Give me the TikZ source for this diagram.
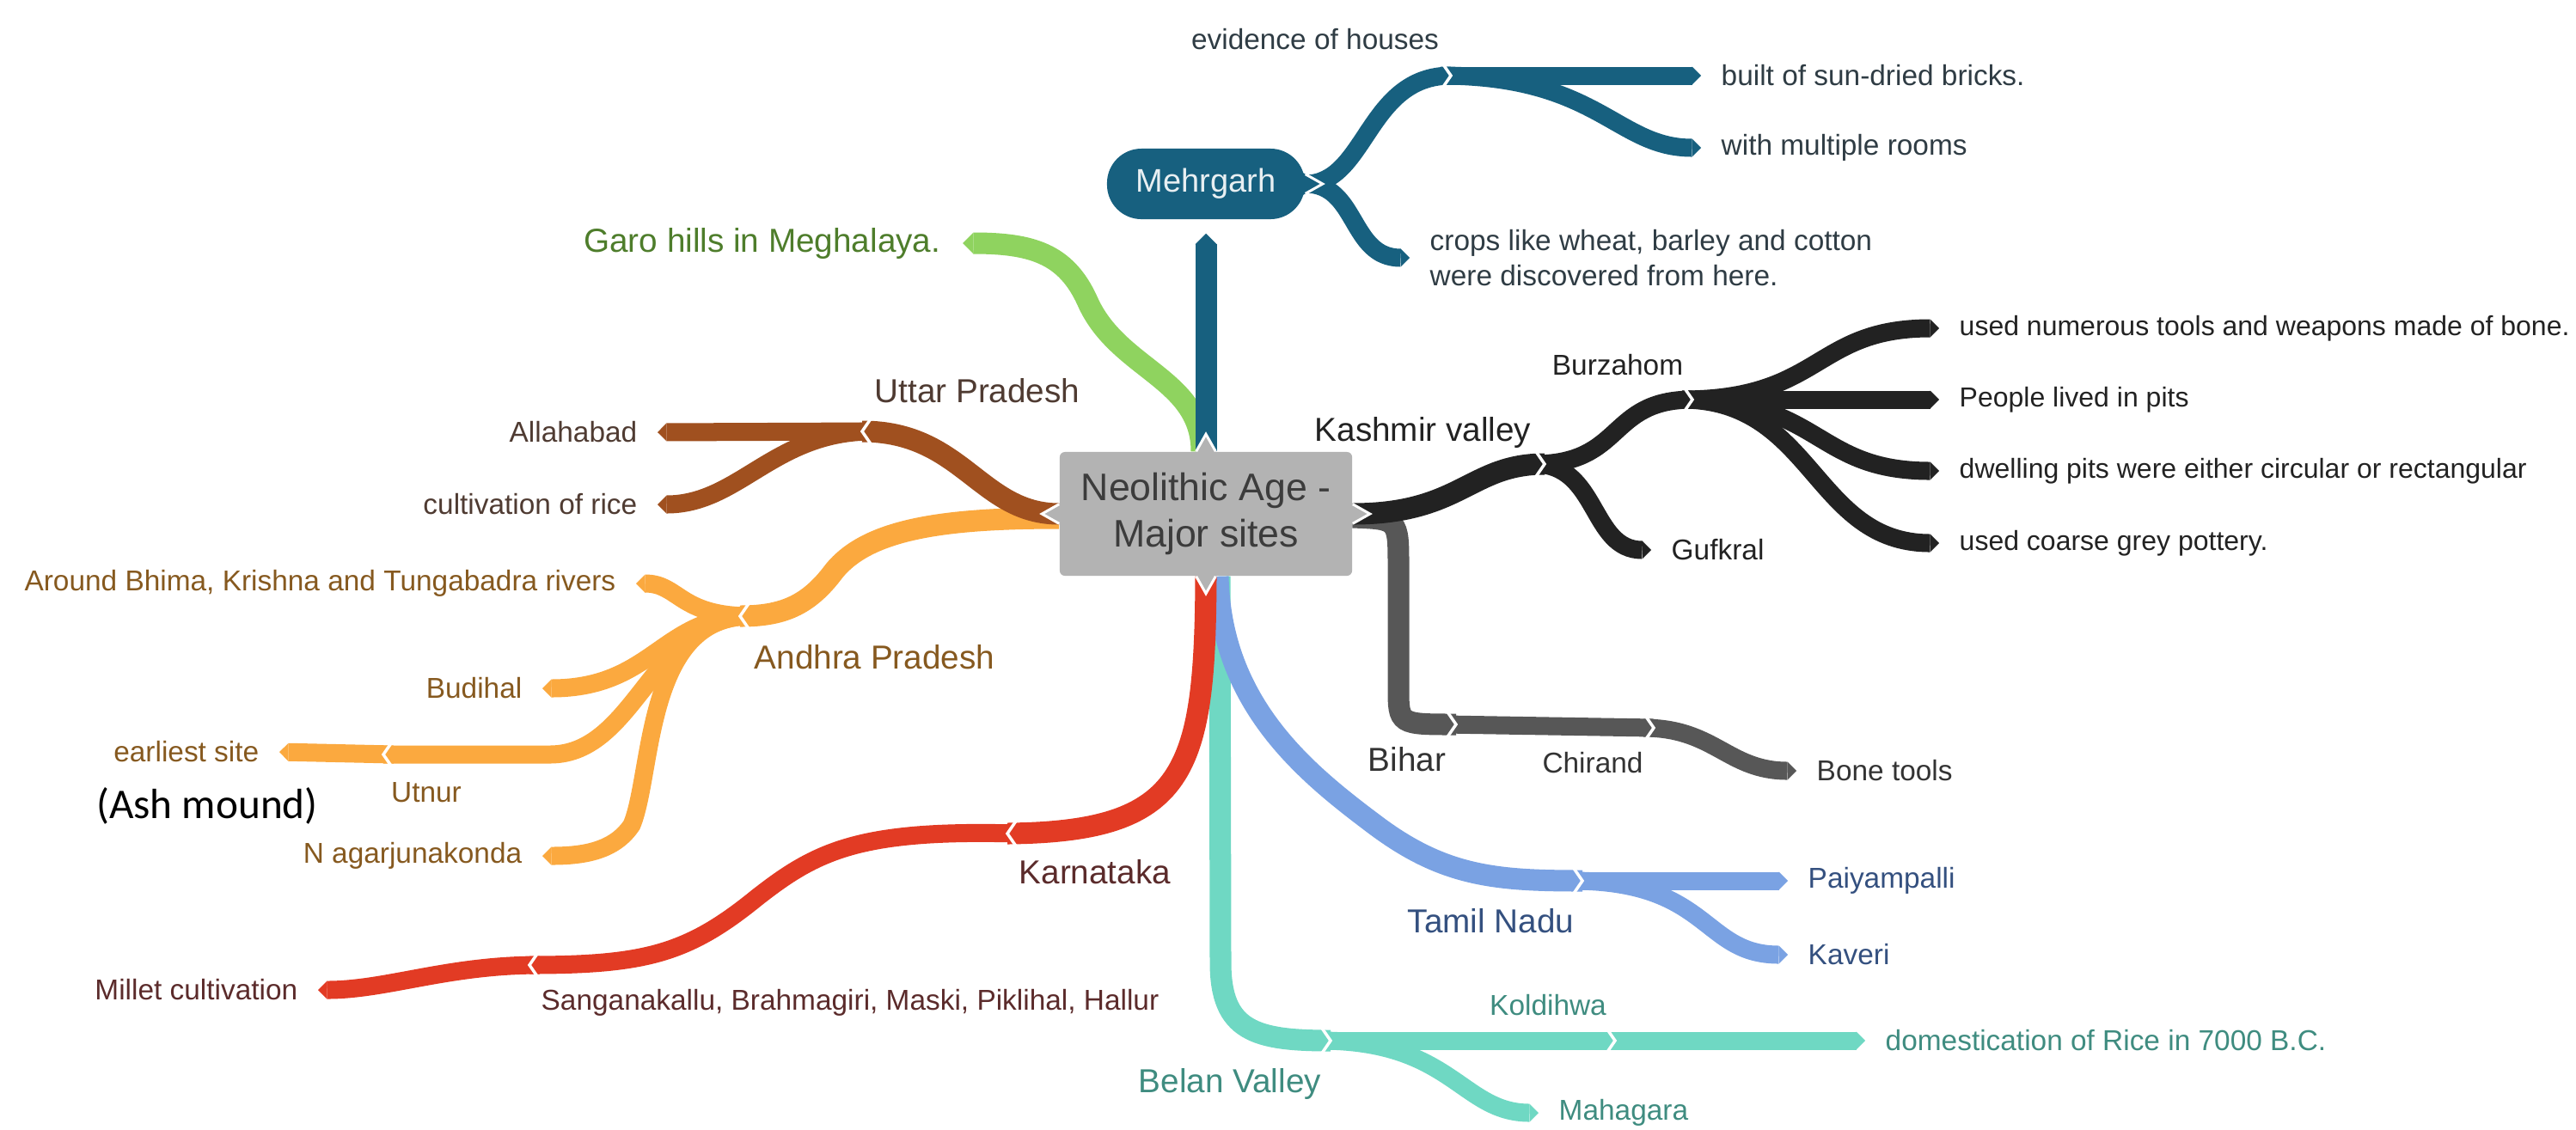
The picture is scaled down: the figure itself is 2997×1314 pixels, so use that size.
\documentclass[tikz,border=0pt]{standalone}
\usepackage{fontspec}
\setmainfont{Liberation Sans}
\newfontfamily\ashfont{Carlito}
\usetikzlibrary{arrows.meta}
\definecolor{hubgray}{HTML}{B3B3B3}
\definecolor{hubtxt}{HTML}{3C3C3C}
\definecolor{mehrc}{HTML}{17607F}
\definecolor{mehrt}{HTML}{2F3C44}
\definecolor{garoc}{HTML}{8FD35F}
\definecolor{garot}{HTML}{4E7D2B}
\definecolor{uttc}{HTML}{A0501F}
\definecolor{uttt}{HTML}{4F3B32}
\definecolor{andc}{HTML}{FBA93F}
\definecolor{andt}{HTML}{86591F}
\definecolor{karc}{HTML}{E23B24}
\definecolor{kart}{HTML}{5B2B2B}
\definecolor{tamc}{HTML}{7AA2E3}
\definecolor{tamt}{HTML}{34507F}
\definecolor{belc}{HTML}{6FD8C3}
\definecolor{belt}{HTML}{3F8C80}
\definecolor{bihc}{HTML}{575757}
\definecolor{biht}{HTML}{333333}
\definecolor{kasc}{HTML}{222222}
\definecolor{kast}{HTML}{222222}

\begin{document}
\begin{tikzpicture}[x=0.01cm, y=-0.01cm,
    trunk/.style={line width=0.25cm},
    twig/.style={line width=0.21cm},
    pointed/.style={-{Triangle[length=0pt 0.5, width=0pt 1, line width=0pt]}},
    leaflbl/.style={inner xsep=0.23cm, inner ysep=0pt, font=\fontsize{9.5}{11.4}\selectfont},
    midlbl/.style={inner sep=0pt, font=\fontsize{11}{13}\selectfont},
    nub/.pic={\fill (-3,-13) -- (20,0) -- (-3,13) -- cycle;
              \draw[white, line width=0.03cm] (0,-11.3) -- (20,0) -- (0,11.3);},
    cut/.pic={\draw[white, line width=0.035cm] (-11,-16) -- (0,0) -- (-11,16);}]

\useasboundingbox (0,0) rectangle (2997,1314);

\node[fill=hubgray, rounded corners=0.06cm, minimum width=3.4cm, minimum height=1.44cm, align=center, text=hubtxt, font=\fontsize{12.7}{15.2}\selectfont, name=hub] at (1403,598) {Neolithic Age -\\Major sites};
\node[fill=mehrc, rounded corners=0.4cm, minimum width=2.3cm, minimum height=0.82cm, text=white!90!mehrc, font=\fontsize{10.8}{13}\selectfont, name=mehr] at (1403,214) {Mehrgarh};

\node[leaflbl, text=mehrt, name=houses] at (1530,46) {evidence of houses};
\node[leaflbl, text=mehrt, anchor=west, name=bricks] at (1979,88) {built of sun-dried bricks.};
\node[leaflbl, text=mehrt, anchor=west, name=rooms] at (1979,172) {with multiple rooms};
\node[leaflbl, text=mehrt, anchor=west, align=left, name=crops] at (1640,300) {crops like wheat, barley and cotton\\were discovered from here.};

\node[midlbl, text=garot, anchor=east, inner xsep=0.25cm, name=garo] at (1120,283) {Garo hills in Meghalaya.};

\node[midlbl, text=uttt, anchor=west, name=uttar] at (1017,455) {Uttar Pradesh};
\node[leaflbl, text=uttt, anchor=east, name=allah] at (765,503) {Allahabad};
\node[leaflbl, text=uttt, anchor=east, name=rice] at (765,587) {cultivation of rice};

\node[midlbl, text=andt, anchor=west, name=andhra] at (877,765) {Andhra Pradesh};
\node[leaflbl, text=andt, anchor=east, name=bhima] at (740,679) {Around Bhima, Krishna and Tungabadra rivers};
\node[leaflbl, text=andt, anchor=east, name=budihal] at (631,801) {Budihal};
\node[leaflbl, text=andt, name=utnur] at (496,922) {Utnur};
\node[leaflbl, text=andt, anchor=east, name=early] at (325,875) {earliest site};
\node[leaflbl, text=andt, anchor=east, name=nagar] at (631,996) {N agarjunakonda};
\node[font=\ashfont\fontsize{14}{16}\selectfont, inner sep=0pt, name=ash] at (241,938) {(Ash mound)};

\node[midlbl, text=kart, anchor=west, name=karna] at (1185,1015) {Karnataka};
\node[leaflbl, text=kart, anchor=west, inner xsep=0pt, name=sanga] at (629,1167) {Sanganakallu, Brahmagiri, Maski, Piklihal, Hallur};
\node[leaflbl, text=kart, anchor=east, name=millet] at (370,1152) {Millet cultivation};

\node[midlbl, text=biht, name=bihar] at (1637,884) {Bihar};
\node[leaflbl, text=biht, name=chir] at (1853,888) {Chirand};
\node[leaflbl, text=biht, anchor=west, name=bone] at (2090,897) {Bone tools};

\node[midlbl, text=kast, anchor=west, name=kash] at (1529,503) {Kashmir valley};
\node[leaflbl, text=kast, name=burz] at (1882,425) {Burzahom};
\node[leaflbl, text=kast, anchor=west, name=gufk] at (1921,640) {Gufkral};
\node[leaflbl, text=kast, anchor=west, font=\fontsize{9.1}{11}\selectfont, name=k1] at (2256,382) {used numerous tools and weapons made of bone.};
\node[leaflbl, text=kast, anchor=west, font=\fontsize{9.1}{11}\selectfont, name=k2] at (2256,465) {People lived in pits};
\node[leaflbl, text=kast, anchor=west, font=\fontsize{9.1}{11}\selectfont, name=k3] at (2256,548) {dwelling pits were either circular or rectangular};
\node[leaflbl, text=kast, anchor=west, font=\fontsize{9.1}{11}\selectfont, name=k4] at (2256,632) {used coarse grey pottery.};

\node[midlbl, text=tamt, anchor=west, name=tamil] at (1637,1072) {Tamil Nadu};
\node[leaflbl, text=tamt, anchor=west, name=paiy] at (2080,1025) {Paiyampalli};
\node[leaflbl, text=tamt, anchor=west, name=kaveri] at (2080,1111) {Kaveri};

\node[midlbl, text=belt, anchor=west, name=belan] at (1324,1261) {Belan Valley};
\node[leaflbl, text=belt, name=kold] at (1801,1170) {Koldihwa};
\node[leaflbl, text=belt, anchor=west, name=rice7] at (2170,1211) {domestication of Rice in 7000 B.C.};
\node[leaflbl, text=belt, anchor=west, name=maha] at (1790,1295) {Mahagara};

\coordinate (housesJ) at (1688,88);
\coordinate (uttJ) at (1003,502);
\coordinate (andJ) at (861,717);
\coordinate (utnJ) at (446,878);
\coordinate (karJ) at (1172,970);
\coordinate (sanJ) at (616,1123);
\coordinate (bihJ) at (1694,843);
\coordinate (chirJ) at (1924,847);
\coordinate (kasJ) at (1797,540);
\coordinate (burJ) at (1969,465);
\coordinate (tamJ) at (1841,1025);
\coordinate (belJ) at (1548,1211);
\coordinate (kolJ) at (1879,1211);

\draw[trunk, belc] ([xshift=0.16cm]hub.south) -- (1420,1120) .. controls (1420,1200) and (1460,1211) .. (belJ);
\draw[twig, belc] ([xshift=-0.12cm]belJ) -- (kolJ);
\draw[twig, belc, pointed] ([xshift=-0.12cm]kolJ) -- (rice7.west);
\draw[twig, belc, pointed] ([xshift=-0.12cm]belJ) .. controls (1690,1211) and (1700,1295) .. (maha.west);

\draw[trunk, tamc] ([xshift=0.14cm]hub.south) .. controls (1420,820) and (1520,900) .. (1600,960) .. controls (1680,1020) and (1740,1025) .. (tamJ);
\draw[twig, tamc, pointed] ([xshift=-0.12cm]tamJ) -- (paiy.west);
\draw[twig, tamc, pointed] ([xshift=-0.12cm]tamJ) .. controls (1990,1025) and (1980,1111) .. (kaveri.west);

\draw[trunk, karc] (hub.south) .. controls (1402,900) and (1380,968) .. (karJ);
\draw[twig, karc] ([xshift=0.12cm]karJ) .. controls (1000,965) and (950,990) .. (880,1045) .. controls (800,1110) and (750,1123) .. (sanJ);
\draw[twig, karc, pointed] ([xshift=0.12cm]sanJ) .. controls (520,1123) and (450,1152) .. (millet.east);

\draw[trunk, garoc, pointed] ([xshift=-0.05cm]hub.north) .. controls (1398,440) and (1300,430) .. (1265,350) .. controls (1240,295) and (1200,283) .. (garo.east);

\draw[trunk, mehrc, pointed] (hub.north) -- ([yshift=-0.16cm]mehr.south);
\draw[twig, mehrc] (mehr.east) .. controls (1590,214) and (1590,88) .. (housesJ);
\draw[twig, mehrc, pointed] ([xshift=-0.12cm]housesJ) -- (bricks.west);
\draw[twig, mehrc, pointed] ([xshift=-0.12cm]housesJ) .. controls (1860,88) and (1880,172) .. (rooms.west);
\draw[twig, mehrc, pointed] (mehr.east) .. controls (1580,214) and (1570,300) .. (crops.west);

\draw[trunk, andc] ([yshift=-0.05cm]hub.west) .. controls (1100,603) and (1010,615) .. (970,665) .. controls (940,705) and (910,717) .. (andJ);
\draw[twig, andc, pointed] ([xshift=0.12cm]andJ) .. controls (790,717) and (790,679) .. (bhima.east);
\draw[twig, andc, pointed] ([xshift=0.12cm]andJ) .. controls (770,717) and (760,801) .. (budihal.east);
\draw[twig, andc] ([xshift=0.12cm]andJ) .. controls (760,717) and (740,878) .. (640,878) -- (utnJ);
\draw[twig, andc, pointed] ([xshift=0.12cm]utnJ) -- (early.east);
\draw[twig, andc, pointed] ([xshift=0.12cm]andJ) .. controls (750,717) and (760,900) .. (735,960) .. controls (715,990) and (680,996) .. (nagar.east);

\draw[trunk, uttc] (hub.west) .. controls (1140,598) and (1120,502) .. (uttJ);
\draw[twig, uttc, pointed] ([xshift=0.12cm]uttJ) -- (allah.east);
\draw[twig, uttc, pointed] ([xshift=0.12cm]uttJ) .. controls (900,502) and (860,587) .. (rice.east);

\draw[trunk, bihc] ([yshift=-0.04cm]hub.east) .. controls (1627,604) .. (1627,660) -- (1627,800) .. controls (1627,843) .. (bihJ);
\draw[twig, bihc] ([xshift=-0.12cm]bihJ) -- (chirJ);
\draw[twig, bihc, pointed] ([xshift=-0.12cm]chirJ) .. controls (1995,847) and (2010,897) .. (bone.west);

\draw[trunk, kasc] (hub.east) .. controls (1700,598) and (1710,540) .. (kasJ);
\draw[twig, kasc] ([xshift=-0.12cm]kasJ) .. controls (1890,540) and (1870,465) .. (burJ);
\draw[twig, kasc, pointed] ([xshift=-0.12cm]kasJ) .. controls (1860,540) and (1850,640) .. (gufk.west);
\draw[twig, kasc, pointed] ([xshift=-0.12cm]burJ) .. controls (2120,465) and (2110,382) .. (k1.west);
\draw[twig, kasc, pointed] ([xshift=-0.12cm]burJ) -- (k2.west);
\draw[twig, kasc, pointed] ([xshift=-0.12cm]burJ) .. controls (2120,465) and (2110,548) .. (k3.west);
\draw[twig, kasc, pointed] ([xshift=-0.12cm]burJ) .. controls (2110,465) and (2110,632) .. (k4.west);

\pic[fill=hubgray, rotate=90] at (hub.north) {nub};
\pic[fill=hubgray, rotate=-90] at (hub.south) {nub};
\pic[fill=hubgray, rotate=180] at (hub.west) {nub};
\pic[fill=hubgray] at (hub.east) {nub};
\pic[fill=mehrc] at (mehr.east) {nub};

\pic at (housesJ) {cut};
\pic[rotate=180] at (uttJ) {cut};
\pic[rotate=180] at (andJ) {cut};
\pic[rotate=180] at (utnJ) {cut};
\pic[rotate=180] at (karJ) {cut};
\pic[rotate=180] at (sanJ) {cut};
\pic at (bihJ) {cut};
\pic at (chirJ) {cut};
\pic at (kasJ) {cut};
\pic at (burJ) {cut};
\pic at (tamJ) {cut};
\pic at (belJ) {cut};
\pic at (kolJ) {cut};
\end{tikzpicture}
\end{document}
